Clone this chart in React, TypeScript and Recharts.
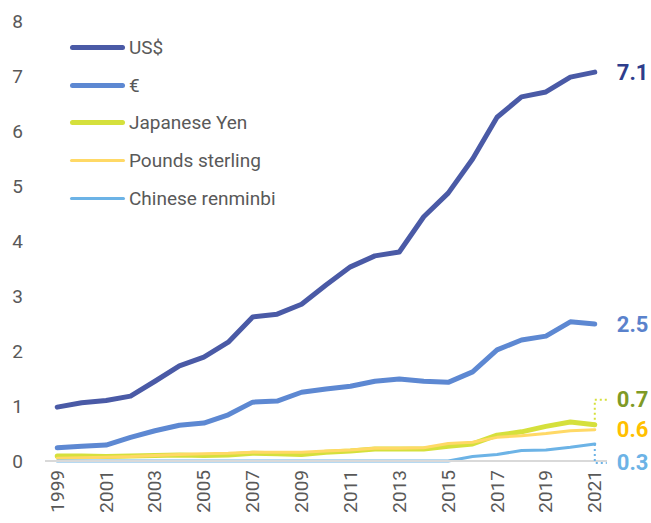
import React from "react";
import { LineChart, Line, XAxis, YAxis, Legend, LabelList } from "recharts";

const years = [1999, 2000, 2001, 2002, 2003, 2004, 2005, 2006, 2007, 2008, 2009, 2010, 2011, 2012, 2013, 2014, 2015, 2016, 2017, 2018, 2019, 2020, 2021];
const usd = [0.98, 1.06, 1.1, 1.18, 1.45, 1.73, 1.89, 2.16, 2.62, 2.67, 2.85, 3.2, 3.53, 3.73, 3.8, 4.44, 4.87, 5.49, 6.25, 6.62, 6.71, 6.98, 7.07];
const eur = [0.24, 0.27, 0.29, 0.43, 0.55, 0.65, 0.69, 0.84, 1.07, 1.09, 1.25, 1.31, 1.36, 1.45, 1.49, 1.45, 1.43, 1.62, 2.02, 2.2, 2.27, 2.53, 2.49];
const yen = [0.09, 0.09, 0.08, 0.09, 0.1, 0.11, 0.1, 0.11, 0.14, 0.13, 0.12, 0.16, 0.18, 0.22, 0.22, 0.22, 0.27, 0.31, 0.47, 0.53, 0.63, 0.71, 0.66];
const gbp = [0.05, 0.06, 0.07, 0.08, 0.1, 0.12, 0.13, 0.14, 0.16, 0.16, 0.16, 0.18, 0.2, 0.23, 0.23, 0.24, 0.32, 0.34, 0.43, 0.46, 0.5, 0.55, 0.57];
const cny = [0, 0, 0, 0, 0, 0, 0, 0, 0, 0, 0, 0, 0, 0, 0, 0, 0, 0.08, 0.12, 0.19, 0.2, 0.25, 0.31];
const xTicks = [1999, 2001, 2003, 2005, 2007, 2009, 2011, 2013, 2015, 2017, 2019, 2021];
const yTicks = [0, 1, 2, 3, 4, 5, 6, 7, 8];

const series = [
  { key: "usd", name: "US$", color: "#4a5aa6", width: 5, label: "7.1", labelColor: "#2e3d8c", dy: 0, leader: 0 },
  { key: "eur", name: "€", color: "#5d88d2", width: 5, label: "2.5", labelColor: "#5a82cc", dy: 0, leader: 0 },
  { key: "yen", name: "Japanese Yen", color: "#d5e03c", width: 5, label: "0.7", labelColor: "#7f9a26", dy: -25, leader: 1 },
  { key: "gbp", name: "Pounds sterling", color: "#ffd966", width: 3, label: "0.6", labelColor: "#ffc000", dy: 0, leader: 0 },
  { key: "cny", name: "Chinese renminbi", color: "#6cb3e6", width: 3, label: "0.3", labelColor: "#6cb3e6", dy: 19, leader: 1 },
];

const data = years.map((year, i) => ({
  year,
  usd: usd[i],
  eur: eur[i],
  yen: yen[i],
  gbp: gbp[i],
  cny: cny[i],
}));

const FONT = "Roboto, 'Noto Sans', sans-serif";
const TEXT = "#595959";

const XTick = (props: any) => {
  const { x, payload } = props;
  return (
    <g transform={`translate(${x},${470})`}>
      <text transform="rotate(-90)" textAnchor="end" dominantBaseline="central" fill={TEXT} fontSize={19} fontFamily={FONT}>
        {payload.value}
      </text>
    </g>
  );
};

const makeEndLabel = (s: any) => (props: any) => {
  const { x, y, index } = props;
  if (index !== years.length - 1) return <g />;
  const ly = y + s.dy;
  return (
    <g>
      {s.leader ? (
        <polyline
          points={`${x},${y} ${x},${ly} ${x + 12},${ly}`}
          fill="none"
          stroke={s.color}
          strokeWidth={2}
          strokeDasharray="2 3"
        />
      ) : null}
      <text x={x + 22} y={ly} dominantBaseline="central" fill={s.labelColor} fontSize={22} fontWeight="bold" fontFamily={FONT}>
        {s.label}
      </text>
    </g>
  );
};

const LegendContent = () => (
  <div style={{ fontFamily: FONT, fontSize: 19, color: TEXT }}>
    {series.map((s) => (
      <div key={s.key} style={{ height: 37.6, display: "flex", alignItems: "center" }}>
        <div style={{ width: 55, height: s.width, background: s.color, borderRadius: s.width / 2, marginRight: 4 }} />
        <span style={{ whiteSpace: "nowrap" }}>{s.name}</span>
      </div>
    ))}
  </div>
);

export default function App() {
  return (
    <div style={{ position: "absolute", left: 0, top: 0, width: 651, height: 523, background: "#fff" }}>
      <LineChart width={651} height={523} data={data} margin={{ top: 21, right: 44, left: 0, bottom: 0 }}>
        <XAxis
          dataKey="year"
          type="number"
          domain={[1998.5, 2021.5]}
          ticks={xTicks}
          interval={0}
          tick={<XTick />}
          tickLine={false}
          axisLine={{ stroke: "#d9d9d9", strokeWidth: 2 }}
          height={62}
        />
        <YAxis
          domain={[0, 8]}
          ticks={yTicks}
          interval={0}
          width={45}
          axisLine={false}
          tickLine={false}
          tickSize={0}
          tickMargin={22}
          tick={{ fill: TEXT, fontSize: 19, fontFamily: FONT }}
        />
        <Legend
          verticalAlign="middle"
          align="center"
          layout="vertical"
          content={<LegendContent />}
          wrapperStyle={{ position: "absolute", top: 29, left: 70, width: 260 }}
        />
        {series.map((s) => (
          <Line
            key={s.key}
            dataKey={s.key}
            name={s.name}
            type="linear"
            stroke={s.color}
            strokeWidth={s.width}
            strokeLinecap="round"
            strokeLinejoin="round"
            dot={false}
            activeDot={false}
            isAnimationActive={false}
          >
            <LabelList dataKey={s.key} content={makeEndLabel(s)} />
          </Line>
        ))}
      </LineChart>
    </div>
  );
}
